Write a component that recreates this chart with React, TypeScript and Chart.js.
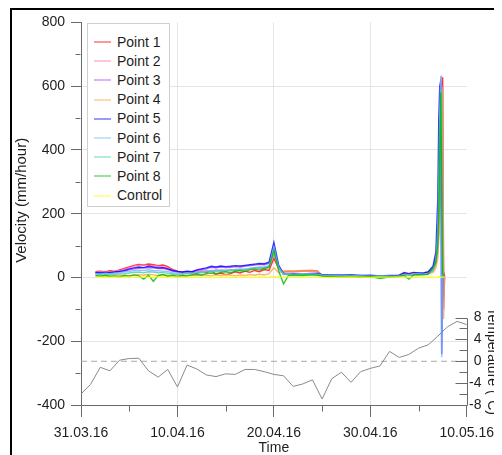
import React, { useEffect, useRef } from 'react';
import { Chart, registerables } from 'chart.js';

Chart.register(...registerables);

const FONT = '"Liberation Sans", Arial, Helvetica, sans-serif';
const TEXT = '#1e1e1e';
const AXIS = '#6a6a6a';
const GRID = '#e4e4e4';

// x axis: days since 31.03.16
const X_MIN = 0;
const X_MAX = 40;
const TICK_DAYS = [0, 10, 20, 30, 40];
const DATE_LABELS = ['31.03.16', '10.04.16', '20.04.16', '30.04.16', '10.05.16'];
const MINOR_DAYS = [5, 15, 25, 35];

// velocity axis
const VEL_MIN = -400;
const VEL_MAX = 800;
const VEL_STEP = 200;
const VEL_MINOR = [-300, -100, 100, 300, 500, 700];
const VEL_TITLE = 'Velocity (mm/hour)';

// temperature axis
const TEMP_MIN = -8;
const TEMP_MAX = 62;
const TEMP_TICKS = [-8, -4, 0, 4, 8];
const TEMP_TICK_LABELS = ['-8', '-4', '0', '4', '8'];
const TEMP_MINOR = [-6, -2, 2, 6];
const TEMP_TITLE = 'Temperature (°C)';

const SERIES_NAMES = ['Point 1', 'Point 2', 'Point 3', 'Point 4', 'Point 5', 'Point 6', 'Point 7', 'Point 8', 'Control'];
const SERIES_RGB = [
  '255,0,0', '255,110,170', '170,60,255', '255,160,60', '0,0,255',
  '120,180,255', '60,210,175', '0,185,0', '255,255,0',
];

const VEL_DAYS = [
  1.5, 2, 2.5, 3, 3.5, 4, 4.5, 5, 5.5, 6, 6.5, 7, 7.5, 8, 8.5, 9, 9.5, 10, 10.5, 11,
  11.5, 12, 12.5, 13, 13.5, 14, 14.5, 15, 15.5, 16, 16.5, 17, 17.5, 18, 18.5, 19, 19.5, 20, 20.5,
  21, 21.5, 22, 23, 24, 24.5, 25, 26, 27, 28, 29, 30, 31, 32, 33, 33.5, 34, 34.5, 35,
  35.5, 36, 36.5, 36.8, 37.0, 37.1, 37.2, 37.3, 37.4, 37.5, 37.6, 37.7,
];

const P1 = [
  18, 20, 17, 21, 19, 24, 28, 33, 38, 41, 39, 42, 40, 37, 39, 34, 25, 20, 16, 14, 18, 12, 20, 15, 22, 10, 14, 9, 12, 18, 14, 20, 16, 22, 18, 25, 22, 60, 28,
  18, 20, 19, 21, 22, 20, 6, 5, 4, 3, 4, 3, 4, 3, 5, 12, 8, 10, 9,
  12, 15, 25, 45, 90, 150, 250, 400, 550, 628, 20, 5,
];
const P2 = [
  16, 18, 19, 17, 20, 22, 26, 31, 36, 38, 40, 37, 38, 35, 33, 30, 24, 18, 17, 19, 16, 20, 18, 22, 19, 24, 20, 22, 25, 21, 26, 24, 28, 30, 27, 32, 35, 70, 30,
  16, 18, 17, 19, 20, 21, 7, 5, 5, 4, 3, 4, 3, 4, 4, 10, 9, 8, 11,
  10, 13, 20, 40, 80, 150, 300, 450, 580, 600, -60, 2,
];
const P3 = [
  14, 15, 13, 16, 15, 18, 20, 24, 27, 29, 30, 31, 30, 28, 29, 25, 20, 17, 16, 18, 17, 22, 25, 27, 32, 30, 33, 31, 32, 34, 33, 35, 37, 39, 41, 40, 44, 90, 34,
  10, 11, 12, 11, 13, 12, 8, 6, 7, 5, 6, 4, 5, 4, 6, 14, 10, 12, 13,
  12, 16, 30, 60, 130, 250, 400, 500, 560, 160, -100, 0,
];
const P4 = [
  5, 4, 6, 5, 3, 6, 7, 5, 8, 9, 7, 10, 8, 6, 9, 7, 5, 4, 6, 5, 7, 6, 8, 7, 5, 8, 6, 9, 7, 5, 8, 6, 9, 7, 10, 8, 12, 30, 15,
  20, 21, 20, 22, 21, 19, 5, 4, 3, 3, 2, 3, 2, 3, 4, 16, 12, 14, 10,
  11, 12, 15, 30, 60, 120, 200, 350, 500, 590, -130, 8,
];
const P5 = [
  15, 14, 16, 15, 17, 19, 22, 27, 30, 33, 31, 35, 33, 30, 31, 27, 22, 19, 17, 20, 18, 24, 27, 30, 35, 33, 36, 34, 35, 37, 36, 38, 40, 42, 44, 43, 48, 110, 38,
  12, 10, 11, 9, 12, 13, 9, 8, 7, 9, 6, 7, 5, 6, 7, 15, 12, 16, 14,
  14, 18, 35, 80, 250, 500, 600, 615, -240, 0, 5, 3,
];
const P6 = [
  12, 11, 13, 12, 14, 15, 17, 19, 21, 23, 22, 24, 22, 21, 20, 18, 15, 13, 12, 14, 13, 16, 18, 20, 22, 21, 24, 23, 22, 25, 26, 25, 28, 31, 33, 32, 36, 95, 32,
  11, 12, 10, 11, 12, 11, 7, 6, 5, 6, 5, 4, 5, 4, 5, 9, 8, 10, 11,
  10, 12, 20, 50, 150, 300, 500, 632, -250, 0, 3, 2,
];
const P7 = [
  8, 9, 7, 10, 9, 11, 12, 14, 16, 17, 15, 18, 17, 15, 16, 13, 11, 9, 10, 12, 11, 14, 15, 17, 19, 18, 21, 20, 22, 24, 23, 26, 27, 29, 31, 30, 34, 80, 28,
  9, 10, 9, 10, 9, 8, 6, 5, 4, 5, 4, 3, 4, 3, 4, 8, 7, 9, 10,
  9, 11, 25, 45, 100, 200, 350, 500, 590, 20, 5, 3,
];
const P8 = [
  6, 4, 7, 3, 5, 2, 6, 4, 8, 5, -5, 7, -12, 6, 9, 4, 7, 3, 6, 5, 8, 10, 7, 12, 14, 11, 16, 18, 15, 20, 22, 19, 24, 26, 23, 28, 31, 85, 20,
  -20, 6, 7, 6, 8, 7, 4, 3, 2, 4, 1, 3, -3, 2, 3, 6, -5, 8, 9,
  8, 10, 30, 50, 110, 200, 400, 580, 300, 10, 5, 3,
];
const CONTROL = [
  1, 2, 0, 1, 2, 1, 0, 2, 1, 1, 2, 0, 1, 2, 1, 0, 1, 2, 1, 0, 2, 1, 1, 2, 0, 1, 2, 1, 0, 1, 2, 1, 1, 0, 2, 1, 1, 3, 2,
  1, 2, 1, 0, 1, 2, 1, 0, 1, 2, 1, 0, 1, 1, 2, 1, 0, 1, 2,
  1, 2, 1, 0, 1, 2, 1, 0, 1, 2, 1, 0,
];
const VEL_SERIES = [P1, P2, P3, P4, P5, P6, P7, P8, CONTROL];

// daily temperature
const TEMP_DAYS = [
  0, 1, 2, 3, 4, 5, 6, 7, 8, 9, 10, 11, 12, 13, 14, 15, 16, 17, 18, 19, 20,
  21, 22, 23, 24, 25, 26, 27, 28, 29, 30, 31, 32, 33, 34, 35, 36, 37, 38, 39, 40,
];
const TEMP_VALUES = [
  -6.0, -4.2, -1.1, -1.75, 0.2, 0.5, 0.55, -1.75, -2.9, -1.5, -4.7, -0.7, -1.4, -2.5, -2.8, -2.3, -2.4, -1.5, -1.5, -1.9, -2.4,
  -2.65, -4.6, -4.15, -3.4, -6.9, -3.2, -2.0, -3.85, -1.9, -1.3, -0.85, 1.8, 0.7, 1.25, 2.4, 3.0, 4.6, 6.3, 7.3, 6.7,
];
const TEMP_ZERO_DAYS = [0, 40];
const TEMP_ZERO_VALUES = [0, 0];

const decor = {
  id: 'decor',
  afterDraw(chart: any) {
    const ctx = chart.ctx;
    const xs = chart.scales.x;
    const ys = chart.scales.y;
    const ts = chart.scales.yT;
    ctx.save();
    ctx.strokeStyle = AXIS;
    ctx.lineWidth = 1;
    ctx.beginPath();
    const yx = Math.round(ys.right) - 0.5;
    for (const v of VEL_MINOR) {
      const py = Math.round(ys.getPixelForValue(v)) + 0.5;
      ctx.moveTo(yx - 5, py);
      ctx.lineTo(yx, py);
    }
    const xy = Math.round(xs.top) + 0.5;
    for (const v of MINOR_DAYS) {
      const px = Math.round(xs.getPixelForValue(v)) + 0.5;
      ctx.moveTo(px, xy);
      ctx.lineTo(px, xy + 6);
    }
    const ax = Math.round(ts.left) + 0.5;
    ctx.moveTo(ax, Math.round(ts.getPixelForValue(TEMP_TICKS[0])) + 0.5);
    ctx.lineTo(ax, Math.round(ts.getPixelForValue(TEMP_TICKS[TEMP_TICKS.length - 1])) + 0.5);
    for (const v of TEMP_TICKS) {
      const py = Math.round(ts.getPixelForValue(v)) + 0.5;
      ctx.moveTo(ax - 12, py);
      ctx.lineTo(ax, py);
    }
    for (const v of TEMP_MINOR) {
      const py = Math.round(ts.getPixelForValue(v)) + 0.5;
      ctx.moveTo(ax - 8, py);
      ctx.lineTo(ax, py);
    }
    ctx.stroke();
    ctx.fillStyle = TEXT;
    ctx.font = `14px ${FONT}`;
    ctx.textAlign = 'right';
    ctx.textBaseline = 'middle';
    TEMP_TICKS.forEach((v, i) => {
      ctx.fillText(TEMP_TICK_LABELS[i], ax + 14, ts.getPixelForValue(v));
    });
    // temperature title
    ctx.save();
    ctx.translate(ax + 24, ts.getPixelForValue(0));
    ctx.rotate(Math.PI / 2);
    ctx.textAlign = 'center';
    ctx.textBaseline = 'middle';
    ctx.fillText(TEMP_TITLE, 0, 0);
    ctx.restore();
    // velocity title
    ctx.save();
    ctx.font = `15px ${FONT}`;
    ctx.translate(14, ys.top + (ys.bottom - ys.top) * 0.465);
    ctx.rotate(-Math.PI / 2);
    ctx.textAlign = 'center';
    ctx.textBaseline = 'middle';
    ctx.fillText(VEL_TITLE, 0, 0);
    ctx.restore();
    ctx.restore();
  },
};

function Legend() {
  return (
    <div
      style={{
        position: 'absolute', left: 79, top: 15, width: 83, height: 184, boxSizing: 'border-box',
        border: '1px solid #cfcfcf', background: '#fff', paddingTop: 8.5,
        fontFamily: FONT, fontSize: 14, color: TEXT,
      }}
    >
      {SERIES_NAMES.map((n, i) => (
        <div key={n} style={{ height: 19.2, display: 'flex', alignItems: 'center' }}>
          <span
            style={{
              display: 'inline-block', width: 17, height: 0,
              borderTop: `2px solid rgba(${SERIES_RGB[i]},0.4)`, marginLeft: 6, marginRight: 6,
            }}
          />
          <span style={{ lineHeight: '19px', whiteSpace: 'nowrap' }}>{n}</span>
        </div>
      ))}
    </div>
  );
}

export default function App() {
  const ref = useRef<HTMLCanvasElement>(null);
  useEffect(() => {
    document.documentElement.style.overflow = 'hidden';
    document.body.style.overflow = 'hidden';
    const velDatasets = VEL_SERIES.map((vals, i) => ({
      label: SERIES_NAMES[i],
      data: vals.map((v, k) => ({ x: VEL_DAYS[k], y: v })),
      borderColor: `rgba(${SERIES_RGB[i]},0.8)`,
      backgroundColor: `rgba(${SERIES_RGB[i]},0.8)`,
      borderWidth: 1.4,
      pointRadius: 0,
      tension: 0,
      yAxisID: 'y',
      order: VEL_SERIES.length - 1 - i,
    }));
    const chart = new Chart(ref.current!, {
      type: 'line',
      data: {
        datasets: [
          ...velDatasets,
          {
            label: 'Temperature',
            data: TEMP_VALUES.map((v, k) => ({ x: TEMP_DAYS[k], y: v })),
            borderColor: '#8a8a8a',
            borderWidth: 1,
            pointRadius: 0,
            tension: 0,
            yAxisID: 'yT',
            order: 20,
          },
          {
            label: 'Zero',
            data: TEMP_ZERO_VALUES.map((v, k) => ({ x: TEMP_ZERO_DAYS[k], y: v })),
            borderColor: '#a8a8a8',
            borderWidth: 1,
            borderDash: [6, 4],
            pointRadius: 0,
            yAxisID: 'yT',
            order: 21,
          },
        ] as any,
      },
      options: {
        responsive: false,
        animation: false,
        devicePixelRatio: 1,
        layout: { padding: { left: 0, right: 0, top: 8, bottom: 0 } },
        plugins: { legend: { display: false }, tooltip: { enabled: false } },
        scales: {
          x: {
            type: 'linear',
            min: X_MIN,
            max: X_MAX,
            afterBuildTicks: (s: any) => { s.ticks = TICK_DAYS.map((v) => ({ value: v })); },
            afterFit: (s: any) => { s.height = 50; },
            ticks: {
              autoSkip: false, maxRotation: 0, padding: 8, color: TEXT,
              font: { size: 14, family: FONT },
              callback: (v: any) => DATE_LABELS[TICK_DAYS.indexOf(Number(v))] ?? '',
            },
            grid: {
              color: (c: any) => (c.tick && c.tick.value > X_MIN && c.tick.value < X_MAX ? GRID : 'rgba(0,0,0,0)'),
              tickColor: AXIS,
              tickLength: 12,
            },
            border: { color: AXIS, width: 1 },
            title: { display: true, text: 'Time', color: TEXT, font: { size: 14, family: FONT, lineHeight: 1 }, padding: { top: 0, bottom: 0 } },
          },
          y: {
            type: 'linear',
            position: 'left',
            min: VEL_MIN,
            max: VEL_MAX,
            afterFit: (s: any) => { s.width = 73; },
            ticks: { stepSize: VEL_STEP, padding: 6, color: TEXT, font: { size: 14, family: FONT } },
            grid: {
              color: (c: any) => (c.tick && c.tick.value > VEL_MIN && c.tick.value < VEL_MAX ? GRID : 'rgba(0,0,0,0)'),
              tickColor: AXIS,
              tickLength: 10,
            },
            border: { color: AXIS, width: 1 },
            title: { display: false },
          },
          yT: {
            type: 'linear',
            position: 'right',
            min: TEMP_MIN,
            max: TEMP_MAX,
            afterBuildTicks: (s: any) => { s.ticks = TEMP_TICKS.map((v) => ({ value: v })); },
            afterFit: (s: any) => { s.width = 33; },
            ticks: { display: false },
            grid: { display: false },
            border: { display: false },
          },
        },
      } as any,
      plugins: [decor],
    });
    return () => chart.destroy();
  }, []);
  return (
    <div style={{ position: 'relative', width: 494, height: 447 }}>
      <canvas ref={ref} width={494} height={447} style={{ position: 'absolute', left: 0, top: 0, width: 494, height: 447 }} />
      <div
        style={{
          position: 'absolute', left: 2, top: 0, right: 0, bottom: 0,
          borderLeft: '2px solid #000', borderTop: '2px solid #000', pointerEvents: 'none',
        }}
      />
      <Legend />
    </div>
  );
}
